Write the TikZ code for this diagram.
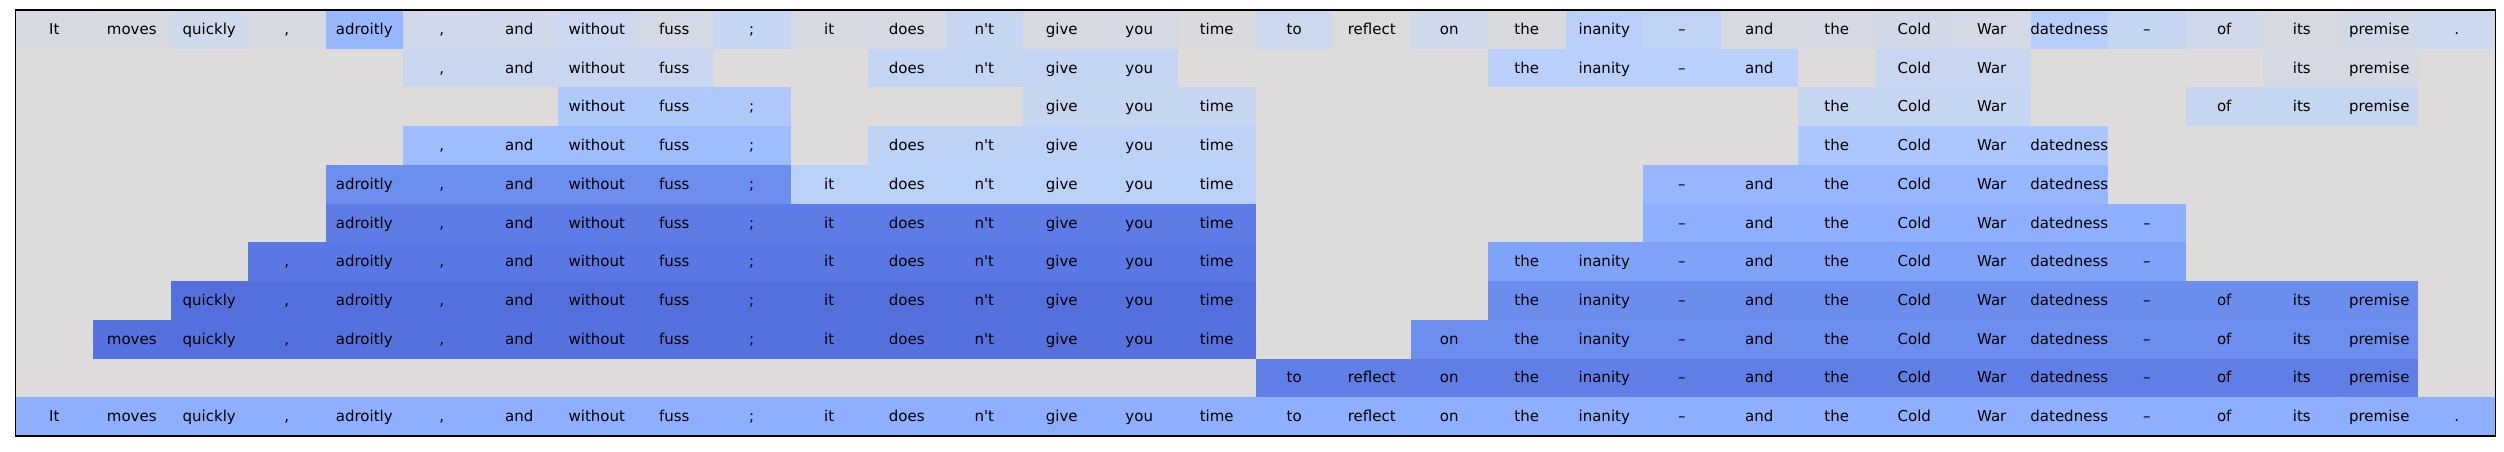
\documentclass[tikz,border=0pt]{standalone}
\usepackage{fontspec}
\newfontfamily\dv{DejaVu Sans}
\definecolor{bg}{RGB}{221,220,219}
\definecolor{rA}{RGB}{200,214,240}
\definecolor{rB}{RGB}{196,213,243}
\definecolor{rC}{RGB}{186,207,250}
\definecolor{rD}{RGB}{212,217,227}
\definecolor{sA}{RGB}{176,201,251}
\definecolor{sB}{RGB}{199,214,240}
\definecolor{tA}{RGB}{157,189,254}
\definecolor{tB}{RGB}{190,210,247}
\definecolor{tC}{RGB}{172,199,253}
\definecolor{uA}{RGB}{108,142,238}
\definecolor{uB}{RGB}{188,209,248}
\definecolor{uC}{RGB}{150,183,255}
\definecolor{vA}{RGB}{93,124,229}
\definecolor{vB}{RGB}{141,175,253}
\definecolor{wA}{RGB}{90,120,228}
\definecolor{wB}{RGB}{128,163,250}
\definecolor{xA}{RGB}{84,112,221}
\definecolor{xB}{RGB}{107,141,237}
\definecolor{yA}{RGB}{84,113,222}
\definecolor{yB}{RGB}{108,142,238}
\definecolor{zA}{RGB}{96,127,230}
\definecolor{last}{RGB}{141,175,253}
\newcommand\tokname[1]{\ifcase#1 It\or moves\or quickly\or ,\or adroitly\or ,\or and\or without\or fuss\or ;\or it\or does\or n't\or give\or you\or time\or to\or reflect\or on\or the\or inanity\or \textendash\or and\or the\or Cold\or War\or datedness\or \textendash\or of\or its\or premise\or .\fi}
\newcommand\seg[4]{\fill[#4] ({15.5+77.5*#2},{10+38.727*#1}) rectangle ({15.5+77.5*(#3+1)},{10+38.727*(#1+1)});}
\newcommand\cellrgb[2]{\definecolor{tmpc}{RGB}{#2}\fill[tmpc] ({15.5+77.5*#1},10) rectangle ({15.5+77.5*(#1+1)},48.727);}
\newcommand\words[2]{\foreach \k in {#2} {\node[tok] (w-#1-\k) at ({15.5+77.5*(\k+0.5)},{10+38.727*(#1+0.5)}) {\tokname{\k}};}}
\tikzset{tok/.style={font=\dv\fontsize{15}{18}\selectfont, inner sep=0pt, text height=11pt, text depth=1pt, anchor=center, text=black}}
\begin{document}
\begin{tikzpicture}[x=1pt,y=-1pt]
\useasboundingbox (0,0) rectangle (2504,451);
\fill[bg] (15.5,10) rectangle (2495.5,436);
% row 0 per cell
\cellrgb{0}{212,217,226}
\cellrgb{1}{214,217,224}
\cellrgb{2}{206,217,236}
\cellrgb{3}{213,217,226}
\cellrgb{4}{151,184,255}
\cellrgb{5}{207,217,235}
\cellrgb{6}{208,217,234}
\cellrgb{7}{203,216,239}
\cellrgb{8}{211,217,229}
\cellrgb{9}{197,213,242}
\cellrgb{10}{213,217,226}
\cellrgb{11}{212,217,227}
\cellrgb{12}{199,214,240}
\cellrgb{13}{213,217,226}
\cellrgb{14}{212,217,227}
\cellrgb{15}{216,218,222}
\cellrgb{16}{204,216,238}
\cellrgb{17}{218,219,220}
\cellrgb{18}{206,217,236}
\cellrgb{19}{216,218,222}
\cellrgb{20}{186,207,249}
\cellrgb{21}{193,211,245}
\cellrgb{22}{213,217,226}
\cellrgb{23}{212,217,227}
\cellrgb{24}{209,217,231}
\cellrgb{25}{211,217,229}
\cellrgb{26}{184,206,250}
\cellrgb{27}{198,214,241}
\cellrgb{28}{206,217,236}
\cellrgb{29}{214,217,224}
\cellrgb{30}{209,217,231}
\cellrgb{31}{205,217,237}
% segments
\seg{1}{5}{8}{rA}\seg{1}{11}{14}{rB}\seg{1}{19}{22}{rC}\seg{1}{24}{25}{rA}\seg{1}{29}{30}{rD}
\seg{2}{7}{9}{sA}\seg{2}{13}{15}{sB}\seg{2}{23}{25}{sB}\seg{2}{28}{30}{sB}
\seg{3}{5}{9}{tA}\seg{3}{11}{15}{tB}\seg{3}{23}{26}{tC}
\seg{4}{4}{9}{uA}\seg{4}{10}{15}{uB}\seg{4}{21}{26}{uC}
\seg{5}{4}{15}{vA}\seg{5}{21}{27}{vB}
\seg{6}{3}{15}{wA}\seg{6}{19}{27}{wB}
\seg{7}{2}{15}{xA}\seg{7}{19}{30}{xB}
\seg{8}{1}{15}{yA}\seg{8}{18}{30}{yB}
\seg{9}{16}{30}{zA}
\seg{10}{0}{31}{last}
% words
\words{0}{0,...,31}
\words{1}{5,6,7,8,11,12,13,14,19,20,21,22,24,25,29,30}
\words{2}{7,8,9,13,14,15,23,24,25,28,29,30}
\words{3}{5,6,7,8,9,11,12,13,14,15,23,24,25,26}
\words{4}{4,5,6,7,8,9,10,11,12,13,14,15,21,22,23,24,25,26}
\words{5}{4,5,6,7,8,9,10,11,12,13,14,15,21,22,23,24,25,26,27}
\words{6}{3,4,5,6,7,8,9,10,11,12,13,14,15,19,20,21,22,23,24,25,26,27}
\words{7}{2,3,4,5,6,7,8,9,10,11,12,13,14,15,19,20,21,22,23,24,25,26,27,28,29,30}
\words{8}{1,2,3,4,5,6,7,8,9,10,11,12,13,14,15,18,19,20,21,22,23,24,25,26,27,28,29,30}
\words{9}{16,...,30}
\words{10}{0,...,31}
\draw[line width=1.4pt] (15.5,10) rectangle (2495.5,436);
\end{tikzpicture}
\end{document}
